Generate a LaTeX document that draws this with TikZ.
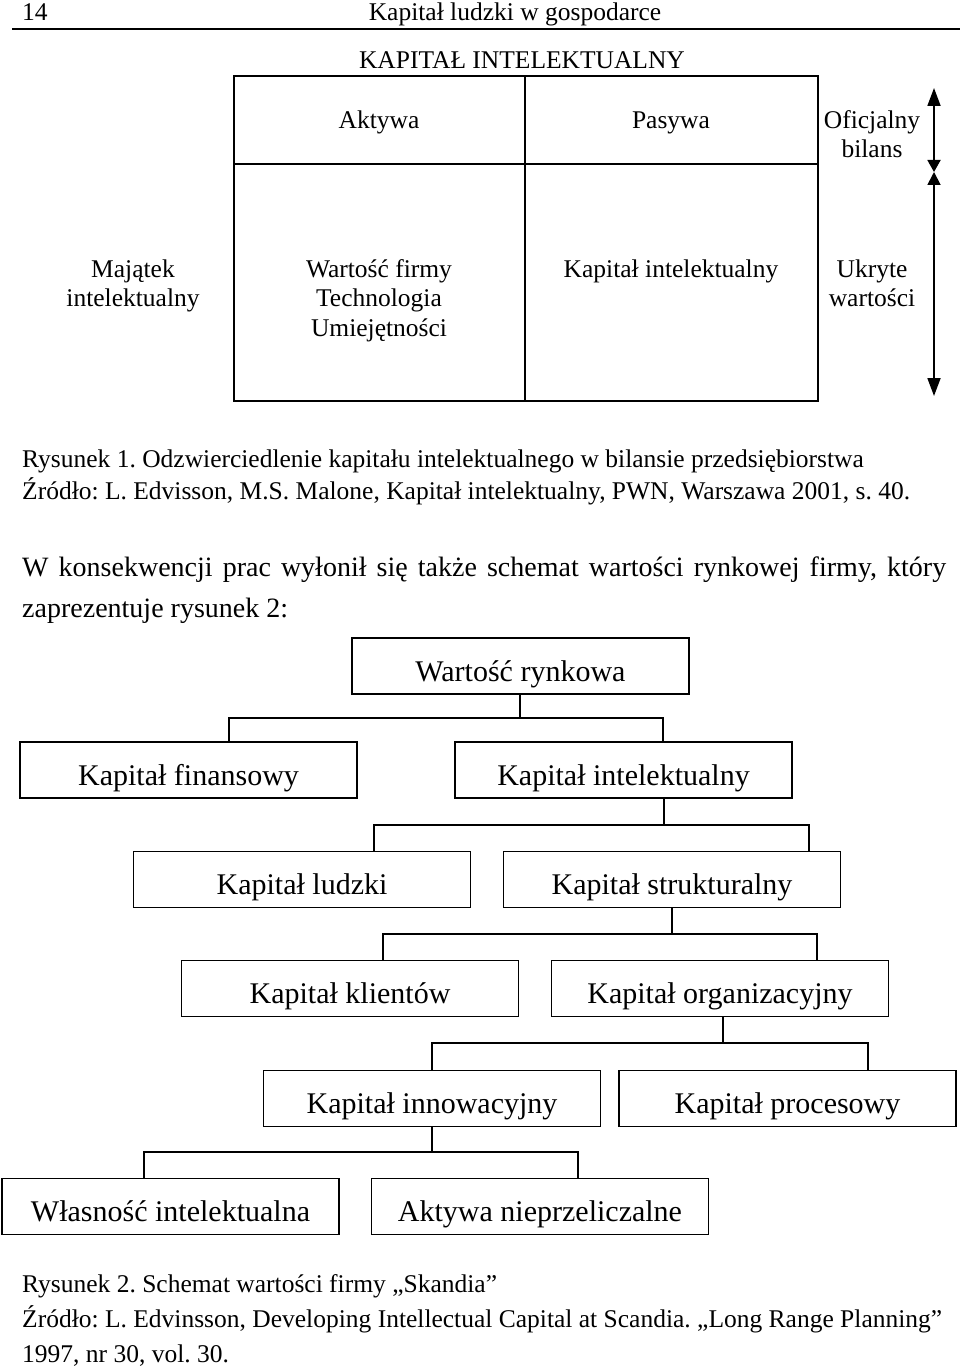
\documentclass[tikz,border=0pt]{standalone}
\usepackage{fontspec}
\setmainfont{Liberation Serif}
\usetikzlibrary{arrows.meta}
\frenchspacing
\begin{document}
\begin{tikzpicture}[x=1pt,y=-1pt,
  txt/.style={inner sep=0pt, anchor=base, font=\fontsize{25.5}{29}\selectfont},
  txtl/.style={txt, anchor=base west},
  para/.style={inner sep=0pt, anchor=base west, font=\fontsize{28}{34}\selectfont},
  box/.style={draw, line width=1.8pt, minimum width=337pt, minimum height=56pt,
    inner sep=0pt, text height=30pt, text depth=0pt, font=\fontsize{30}{36}\selectfont},
  conn/.style={line width=1.8pt},
  rule/.style={line width=1.8pt},
  dblu/.style={line width=1.8pt, {Triangle[length=18pt,width=13pt]}-{Triangle[length=12pt,width=13pt]}},
  dbld/.style={line width=1.8pt, {Triangle[length=13pt,width=13pt]}-{Triangle[length=18pt,width=13pt]}}
]
\useasboundingbox[fill=white] (0,0) rectangle (960,1367);

% page header
\node[txtl] (pg) at (22,21) {14};
\node[txt] (hd) at (515,21) {Kapitał ludzki w gospodarce};
\draw[rule] (12,29) -- (960,29);

% figure 1
\node[txt] (t1) at (522,69) {KAPITAŁ INTELEKTUALNY};
\draw[rule] (234,76) rectangle (818,401);
\draw[rule] (525,76) -- (525,401);
\draw[rule] (234,164) -- (818,164);

\node[txt] (akt) at (379,129) {Aktywa};
\node[txt] (pas) at (671,129) {Pasywa};
\node[txt] (of1) at (872,129) {Oficjalny};
\node[txt] (of2) at (872,158) {bilans};

\node[txt] (mj1) at (133,277) {Majątek};
\node[txt] (mj2) at (133,306) {intelektualny};
\node[txt] (wf1) at (379,277) {Wartość firmy};
\node[txt] (wf2) at (379,306) {Technologia};
\node[txt] (wf3) at (379,336) {Umiejętności};
\node[txt] (kin) at (671,277) {Kapitał intelektualny};
\node[txt] (uk1) at (872,277) {Ukryte};
\node[txt] (uk2) at (872,306) {wartości};

\coordinate (a1) at (934,88);
\coordinate (a2) at (934,172);
\coordinate (a3) at (934,396);
\draw[dblu] (a1) -- (a2);
\draw[dbld] (a2) -- (a3);

% captions 1
\node[txtl] (c1) at (22,467) {Rysunek 1. Odzwierciedlenie kapitału intelektualnego w bilansie przedsiębiorstwa};
\node[txtl] (c2) at (22,499) {Źródło: L. Edvisson, M.S. Malone, Kapitał intelektualny, PWN, Warszawa 2001, s. 40.};

% paragraph
\node[para] (p1) at (22,576) {\makebox[924pt][s]{W konsekwencji prac wyłonił się także schemat wartości rynkowej firmy, który}};
\node[para] (p2) at (22,617) {zaprezentuje rysunek 2:};

% figure 2 tree
\node[box] (wr)  at (520.5,666)  {Wartość rynkowa};
\node[box] (kf)  at (188.5,770)  {Kapitał finansowy};
\node[box] (ki)  at (623.5,770)  {Kapitał intelektualny};
\node[box] (kl)  at (302,879.5)  {Kapitał ludzki};
\node[box] (ks)  at (672,879.5)  {Kapitał strukturalny};
\node[box] (kk)  at (350,988.5)  {Kapitał klientów};
\node[box] (ko)  at (720,988.5)  {Kapitał organizacyjny};
\node[box] (kn)  at (432,1098.5) {Kapitał innowacyjny};
\node[box] (kp)  at (787.5,1098.5) {Kapitał procesowy};
\node[box] (wi)  at (170.5,1206.5) {Własność intelektualna};
\node[box] (an)  at (540,1206.5) {Aktywa nieprzeliczalne};

\coordinate (j1) at (520,718);
\coordinate (j2) at (664,825);
\coordinate (j3) at (672,934);
\coordinate (j4) at (723,1043);
\coordinate (j5) at (432,1152);

\draw[conn] (wr.south -| j1) -- (j1);
\draw[conn] ([xshift=40.5pt]kf.north) |- (j1) -| ([xshift=39.5pt]ki.north);
\draw[conn] (ki.south -| j2) -- (j2);
\draw[conn] ([xshift=72pt]kl.north) |- (j2) -| ([xshift=137pt]ks.north);
\draw[conn] (ks.south -| j3) -- (j3);
\draw[conn] ([xshift=33pt]kk.north) |- (j3) -| ([xshift=97pt]ko.north);
\draw[conn] (ko.south -| j4) -- (j4);
\draw[conn] (kn.north) |- (j4) -| ([xshift=80.5pt]kp.north);
\draw[conn] (kn.south -| j5) -- (j5);
\draw[conn] ([xshift=-26.5pt]wi.north) |- (j5) -| ([xshift=38pt]an.north);

% captions 2
\node[txtl] (c3) at (22,1292) {Rysunek 2. Schemat wartości firmy „Skandia”};
\node[txtl] (c4) at (22,1327) {Źródło: L. Edvinsson, Developing Intellectual Capital at Scandia. „Long Range Planning”};
\node[txtl] (c5) at (22,1362) {1997, nr 30, vol. 30.};
\end{tikzpicture}
\end{document}
